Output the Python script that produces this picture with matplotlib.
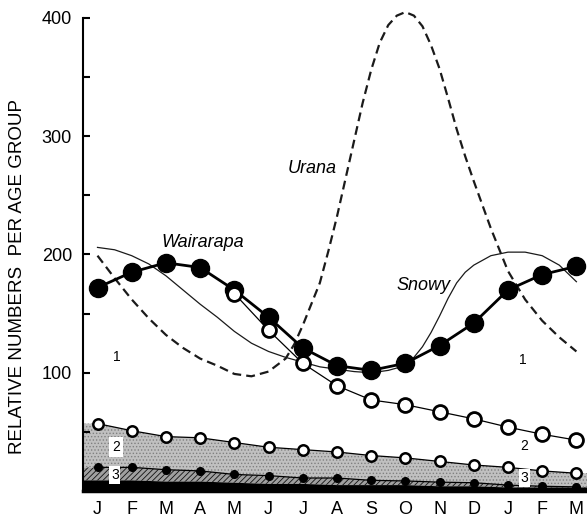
import numpy as np
import matplotlib
matplotlib.use("Agg")
import matplotlib.pyplot as plt

plt.rcParams['font.family'] = ['Liberation Sans', 'DejaVu Sans']
plt.rcParams['hatch.linewidth'] = 0.6

months = ['J', 'F', 'M', 'A', 'M', 'J', 'J', 'A', 'S', 'O', 'N', 'D', 'J', 'F', 'M']
m = np.arange(len(months))

# Wairarapa, all ages (filled) and age group 1 from May on (open)
wairarapa = [172, 185, 193, 189, 170, 147, 121, 106, 102, 108, 123, 142, 170, 183, 190]
group1_m = m[4:]
group1 = [167, 136, 108, 89, 77, 73, 67, 61, 54, 48, 43]

# age groups 2, 3 and the oldest (black band)
group2 = [57, 51, 46, 45, 41, 37, 35, 33, 30, 28, 25, 22, 20, 17, 15]
group3 = [20, 20, 18, 17, 14, 13, 11, 11, 9, 8.5, 7.5, 7, 5, 4, 3.5]
group4 = [9, 9, 8, 8, 7, 6, 6, 5, 5, 5, 4, 4, 3, 3, 3]

# Snowy and Urana curves, read along the month axis
snowy_m = [0, 0.5, 1, 1.5, 2, 2.5, 3, 3.5, 4, 4.5, 5, 5.5, 6, 6.5, 7, 7.5, 8, 8.5, 8.75,
           9, 9.25, 9.5, 9.75, 10, 10.25, 10.5, 10.75, 11, 11.25, 11.5, 12, 12.5, 13, 13.5, 14]
snowy = [206, 204, 199, 192, 182, 170, 158, 147, 135, 125, 118, 113, 109, 105, 103, 101,
         100, 102, 104, 107, 113, 122, 134, 148, 163, 176, 185, 191, 195, 199, 202, 202, 199,
         191, 177]
urana_m = [0, 0.5, 1, 1.5, 2, 2.5, 3, 3.5, 4, 4.5, 5, 5.5, 5.75, 6, 6.25, 6.5, 6.75, 7, 7.25,
           7.5, 7.75, 8, 8.25, 8.5, 8.75, 9, 9.25, 9.5, 9.75, 10, 10.25, 10.5, 10.75, 11,
           11.5, 12, 12.5, 13, 13.5, 14]
urana = [199, 180, 162, 146, 132, 121, 112, 106, 99, 97, 101, 112, 124, 140, 158, 176, 203,
         232, 264, 296, 328, 356, 379, 394, 402, 405, 402, 393, 377, 357, 332, 306, 283, 262,
         222, 186, 162, 144, 130, 118]

fig = plt.figure(figsize=(5.87, 5.18), dpi=100)
ax = fig.add_axes([83 / 587, 1 - 491 / 518, 1 - 83 / 587, 473 / 518])
x0, x1 = -0.424, 14.31
ax.set_xlim(x0, x1)
ax.set_ylim(0, 400)

# shaded bands under the lines, carried out to the frame edges
xe = np.r_[x0, m, x1]
def ext(a):
    return np.r_[a[0], a, a[-1]]

ax.fill_between(xe, ext(group3), ext(group2), facecolor='#c0c0c0', edgecolor='#808080',
                hatch='.....', linewidth=0, zorder=1)
ax.fill_between(xe, ext(group4), ext(group3), facecolor='#a0a0a0', edgecolor='#111111',
                hatch='//////', linewidth=0, zorder=1)
ax.fill_between(xe, 0, ext(group4), facecolor='black', linewidth=0, zorder=1)

ax.plot(urana_m, urana, color='#1a1a1a', lw=1.6, dashes=(4, 2.3), clip_on=False, zorder=3)
ax.plot(snowy_m, snowy, color='#1a1a1a', lw=0.9, zorder=3)

ax.plot(m, wairarapa, color='black', lw=2.0, marker='o', ms=13, mfc='black', mec='black', zorder=4)
ax.plot(group1_m, group1, color='black', lw=0.9, marker='o', ms=10, mfc='white', mec='black',
        mew=2.0, zorder=5)
ax.plot(m, group2, color='black', lw=0.9, marker='o', ms=7.5, mfc='white', mec='black',
        mew=1.8, zorder=5)
ax.plot(m, group3, color='black', lw=0.9, marker='o', ms=5.5, mfc='black', mec='black', zorder=5)

# curve names and age-group numbers
ax.text(3.08, 210, 'Wairarapa', style='italic', fontsize=13, ha='center', va='center')
ax.text(6.27, 273, 'Urana', style='italic', fontsize=13, ha='center', va='center')
ax.text(9.52, 174, 'Snowy', style='italic', fontsize=13, ha='center', va='center')
for xx, yy in [(0.57, 113), (12.44, 111)]:
    ax.text(xx, yy, '1', fontsize=10, ha='center', va='center', zorder=6)
ax.text(0.54, 37, '2', fontsize=10, ha='center', va='center', zorder=6,
        bbox=dict(facecolor='white', edgecolor='none', pad=2))
ax.text(12.47, 38, '2', fontsize=10, ha='center', va='center', zorder=6)
for xx, yy in [(0.51, 13.5), (12.47, 11)]:
    ax.text(xx, yy, '3', fontsize=10, ha='center', va='center', zorder=6,
            bbox=dict(facecolor='white', edgecolor='none', pad=1.2))

ax.spines['top'].set_visible(False)
ax.spines['right'].set_visible(False)
ax.spines['left'].set_linewidth(1.5)
ax.spines['bottom'].set_linewidth(2.5)

ax.set_yticks([0, 100, 200, 300, 400])
ax.set_yticklabels(['', '100', '200', '300', '400'])
ax.set_yticks([50, 150, 250, 350], minor=True)
ax.tick_params(axis='y', which='both', direction='in', length=5, width=1.5, labelsize=13, pad=8)
ax.set_xticks(m)
ax.set_xticklabels(months)
ax.tick_params(axis='x', length=0, labelsize=13, pad=7)

fig.text(18 / 587, 1 - 277 / 518, 'RELATIVE NUMBERS  PER AGE GROUP', rotation=90,
         fontsize=13.5, ha='center', va='center')

fig.savefig('out.png', dpi=100)
